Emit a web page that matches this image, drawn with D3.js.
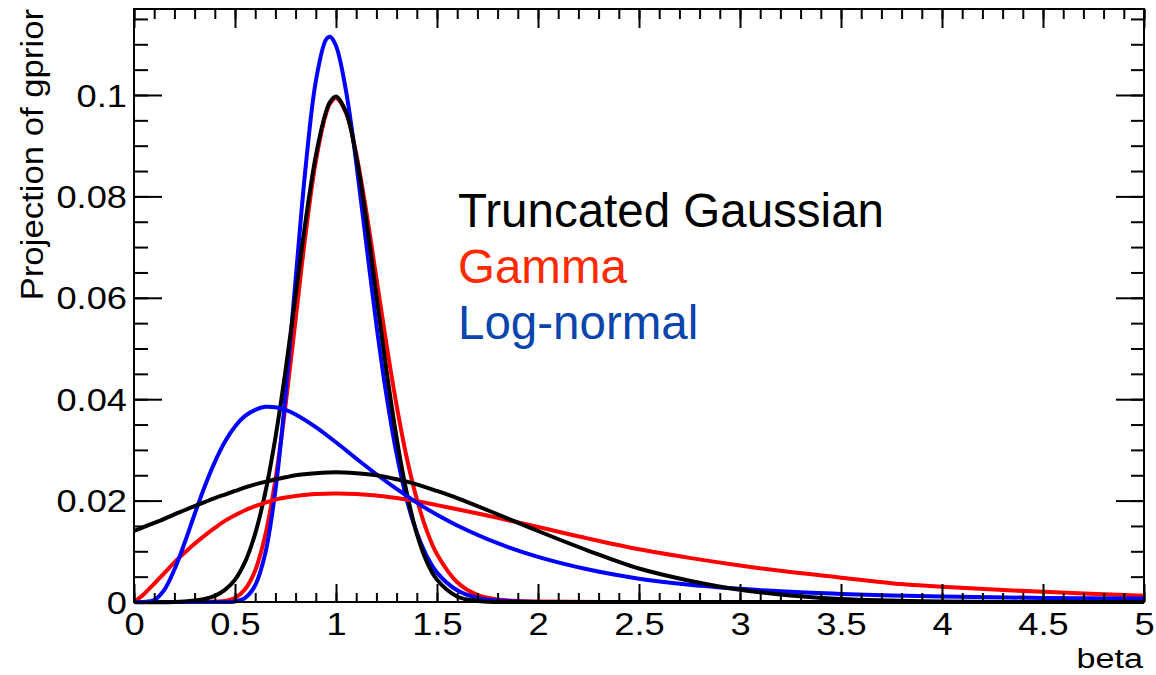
<!DOCTYPE html>
<html>
<head>
<meta charset="utf-8">
<script src="https://cdn.jsdelivr.net/npm/d3@7"></script>
<style>
  html, body { margin: 0; padding: 0; background: #ffffff; }
  svg { display: block; }
</style>
</head>
<body>
<script>
// narrow priors (sampled on a fine beta grid)
const betaNarrow = [0, 0.2, 0.3, 0.35, 0.4, 0.45, 0.5, 0.55, 0.6, 0.65, 0.7, 0.75, 0.8, 0.85, 0.9, 0.95, 0.97, 1.0,
  1.05, 1.1, 1.15, 1.2, 1.25, 1.3, 1.35, 1.4, 1.45, 1.5, 1.6, 1.7, 1.8, 1.9, 2.0, 2.5, 3, 4, 5];
const gausNarrow = [0, 0, 0.0003, 0.0006, 0.0012, 0.0024, 0.0044, 0.0079, 0.0135, 0.0216, 0.0324, 0.0456, 0.0605, 0.0753, 0.0880, 0.0966, 0.0986, 0.0997,
  0.0966, 0.0880, 0.0753, 0.0605, 0.0456, 0.0324, 0.0216, 0.0135, 0.0079, 0.0044, 0.0011, 0.0002, 0, 0, 0, 0, 0, 0, 0];
const gammaNarrow = [0, 0, 0, 0, 0.0001, 0.0002, 0.0008, 0.0025, 0.0062, 0.0132, 0.0241, 0.0387, 0.0557, 0.0727, 0.0869, 0.0962, 0.0983, 0.0994,
  0.0964, 0.0884, 0.0770, 0.0639, 0.0508, 0.0388, 0.0285, 0.0203, 0.0140, 0.0094, 0.0039, 0.0014, 0.0005, 0.0002, 0.0001, 0, 0, 0, 0];
const lognNarrow = [0, 0, 0, 0, 0, 0, 0.0001, 0.0008, 0.0033, 0.0096, 0.0220, 0.0408, 0.0636, 0.0859, 0.1027, 0.1109, 0.1115, 0.1097,
  0.1007, 0.0867, 0.0706, 0.0547, 0.0407, 0.0292, 0.0202, 0.0137, 0.0090, 0.0058, 0.0023, 0.0008, 0.0003, 0.0001, 0, 0, 0, 0, 0];

// wide priors
const betaWide = [0, 0.05, 0.1, 0.15, 0.2, 0.25, 0.3, 0.35, 0.4, 0.45, 0.5, 0.55, 0.6, 0.65, 0.7, 0.75, 0.8, 0.9, 1.0,
  1.1, 1.2, 1.3, 1.4, 1.5, 1.6, 1.8, 2.0, 2.25, 2.5, 2.75, 3.0, 3.25, 3.5, 3.75, 4.0, 4.5, 5.0];
const gausWide = [0.0140, 0.0148, 0.0156, 0.0164, 0.0173, 0.0181, 0.0189, 0.0197, 0.0205, 0.0212, 0.0219, 0.0226, 0.0232, 0.0237, 0.0242, 0.0246, 0.0250, 0.0254, 0.0256,
  0.0254, 0.0250, 0.0242, 0.0232, 0.0219, 0.0205, 0.0173, 0.0140, 0.0101, 0.0066, 0.0042, 0.0024, 0.0013, 0.0006, 0.0003, 0.0001, 0, 0];
const gammaWide = [0, 0.0016, 0.0036, 0.0057, 0.0078, 0.0097, 0.0115, 0.0131, 0.0146, 0.0160, 0.0171, 0.0181, 0.0189, 0.0196, 0.0202, 0.0206, 0.0209, 0.0213, 0.0214,
  0.0213, 0.0210, 0.0205, 0.0199, 0.0191, 0.0183, 0.0166, 0.0148, 0.0125, 0.0104, 0.0087, 0.0072, 0.0059, 0.0048, 0.0037, 0.0030, 0.0020, 0.00125];
const lognWide = [0, 0, 0.0004, 0.0024, 0.0064, 0.0116, 0.0173, 0.0228, 0.0276, 0.0316, 0.0346, 0.0367, 0.0379, 0.0385, 0.0384, 0.0379, 0.0370, 0.0345, 0.0315,
  0.0283, 0.0252, 0.0223, 0.0196, 0.0172, 0.0151, 0.0116, 0.0089, 0.0064, 0.0046, 0.0034, 0.0026, 0.0020, 0.0016, 0.0013, 0.0011, 0.0008, 0.0007];

// axis ticks and labels
const xMajor = [0, 0.5, 1, 1.5, 2, 2.5, 3, 3.5, 4, 4.5, 5];
const xLabels = ["0", "0.5", "1", "1.5", "2", "2.5", "3", "3.5", "4", "4.5", "5"];
const yMajor = [0, 0.02, 0.04, 0.06, 0.08, 0.1];
const yLabels = ["0", "0.02", "0.04", "0.06", "0.08", "0.1"];
const xTitle = "beta";
const yTitle = "Projection of gprior";

const legendNames = ["Truncated Gaussian", "Gamma", "Log-normal"];
const legendColors = ["#000000", "#ff2a00", "#0a44ad"];

const width = 1156;
const height = 675;
const margin = { top: 9, right: 12, bottom: 73, left: 134 };
const font = "'Liberation Sans', Arial, Helvetica, sans-serif";

const xScale = d3.scaleLinear().domain([0, 5]).range([margin.left, width - margin.right]);
const yScale = d3.scaleLinear().domain([0, 0.11696]).range([height - margin.bottom, margin.top]);

const svg = d3.select("body").append("svg")
  .attr("width", width)
  .attr("height", height)
  .attr("viewBox", [0, 0, width, height]);

svg.append("rect").attr("width", width).attr("height", height).attr("fill", "#ffffff");

// curves, drawn in the same order as the original
const curves = [
  { x: betaNarrow, y: gammaNarrow, color: "#ff0000" },
  { x: betaNarrow, y: lognNarrow, color: "#0000ff" },
  { x: betaNarrow, y: gausNarrow, color: "#000000" },
  { x: betaWide, y: gammaWide, color: "#ff0000" },
  { x: betaWide, y: lognWide, color: "#0000ff" },
  { x: betaWide, y: gausWide, color: "#000000" },
];

const line = d3.line()
  .curve(d3.curveCatmullRom.alpha(0.5))
  .x((d) => xScale(d[0]))
  .y((d) => yScale(d[1]));

const curveLayer = svg.append("g");
curves.forEach((c) => {
  curveLayer.append("path")
    .attr("d", line(c.x.map((v, i) => [v, c.y[i]])))
    .attr("fill", "none")
    .attr("stroke", c.color)
    .attr("stroke-width", 4)
    .attr("stroke-linejoin", "round");
});

// tick marks on all four sides
const xMinor = d3.range(0, 51).map((i) => i / 10);
const yMinor = d3.range(0, 24).map((i) => i * 0.005);
const x0 = xScale(0), x1 = xScale(5);
const y0 = yScale.range()[0], y1 = yScale.range()[1];

function ticks(axis, values, size, tx, ty) {
  const g = svg.append("g")
    .attr("transform", `translate(${tx},${ty})`)
    .call(axis.tickValues(values).tickSize(size).tickSizeOuter(0).tickFormat(""));
  g.select(".domain").remove();
  g.selectAll(".tick line").attr("stroke", "#000").attr("stroke-width", 2);
}

ticks(d3.axisTop(xScale), xMinor, 9, 0, y0);
ticks(d3.axisTop(xScale), xMajor, 18, 0, y0);
ticks(d3.axisBottom(xScale), xMinor, 10, 0, y1);
ticks(d3.axisBottom(xScale), xMajor, 19, 0, y1);
ticks(d3.axisRight(yScale), yMinor, 14, x0, 0);
ticks(d3.axisRight(yScale), yMajor, 28, x0, 0);
ticks(d3.axisLeft(yScale), yMinor, 13, x1, 0);
ticks(d3.axisLeft(yScale), yMajor, 28, x1, 0);

// frame
svg.append("rect")
  .attr("x", x0).attr("y", y1)
  .attr("width", x1 - x0).attr("height", y0 - y1)
  .attr("fill", "none").attr("stroke", "#000").attr("stroke-width", 2);

// tick labels (the original font renders a little wider than Arial)
const xAxis = svg.append("g")
  .attr("transform", `translate(0,${y0})`)
  .call(d3.axisBottom(xScale).tickValues(xMajor).tickSize(0).tickPadding(11)
    .tickFormat((d, i) => xLabels[i]));
xAxis.select(".domain").remove();
xAxis.selectAll("text")
  .attr("font-family", font).attr("font-size", 31).attr("fill", "#000")
  .attr("transform", "scale(1.17,1)");

const yAxis = svg.append("g")
  .attr("transform", `translate(${x0},0)`)
  .call(d3.axisLeft(yScale).tickValues(yMajor).tickSize(0).tickPadding(6)
    .tickFormat((d, i) => yLabels[i]));
yAxis.select(".domain").remove();
yAxis.selectAll("text")
  .attr("font-family", font).attr("font-size", 31).attr("fill", "#000")
  .attr("dy", "0.36em")
  .attr("transform", "scale(1.17,1)");

// axis titles
svg.append("text")
  .attr("transform", `translate(${x1 - 1},668) scale(1.22,1)`)
  .attr("text-anchor", "end")
  .attr("font-family", font).attr("font-size", 28)
  .text(xTitle);

svg.append("text")
  .attr("transform", `translate(43,${y1}) rotate(-90) scale(1.12,1)`)
  .attr("text-anchor", "end")
  .attr("font-family", font).attr("font-size", 31)
  .text(yTitle);

// legend
svg.append("g").selectAll("text")
  .data(legendNames)
  .join("text")
  .attr("x", 458)
  .attr("y", (d, i) => 227 + i * 56)
  .attr("font-family", font)
  .attr("font-size", 47.5)
  .attr("fill", (d, i) => legendColors[i])
  .text((d) => d);
</script>
</body>
</html>
